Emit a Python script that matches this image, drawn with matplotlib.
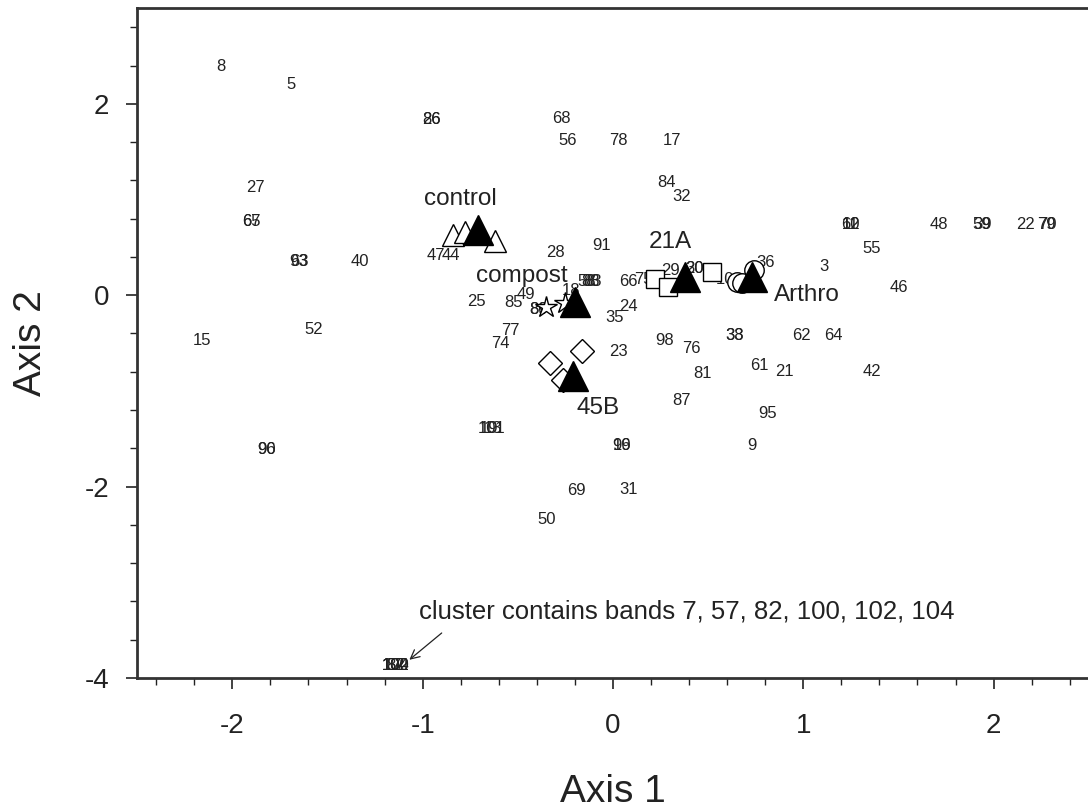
import matplotlib
matplotlib.use('Agg')
import matplotlib.pyplot as plt
from matplotlib.ticker import MultipleLocator

plt.rcParams['font.family'] = ['Liberation Sans', 'DejaVu Sans']
plt.rcParams['axes.unicode_minus'] = False

# ---- band labels (ordination scores) ----
band_names = ['8', '5', '26', '86', '27', '65', '67', '93', '63', '40', '15', '52', '96', '90',
              '68', '56', '78', '17', '84', '32', '47', '44', '28', '91', '25', '85', '49', '89', '80',
              '18', '58', '88', '83', '66', '75', '24', '35', '77', '74', '98', '23', '29', '20', '30',
              '10', '36', '3', '55', '11', '12', '60', '48', '59', '39', '22', '79', '70', '46',
              '76', '33', '38', '62', '64', '61', '21', '81', '42', '87', '95', '9', '19', '101', '13',
              '16', '99', '69', '31', '50', '7', '57', '82', '100', '102', '104']
band_x = [-2.06, -1.69, -0.956, -0.956, -1.88, -1.90, -1.90, -1.65, -1.65, -1.33, -2.16, -1.57, -1.82, -1.82,
          -0.27, -0.24, 0.03, 0.31, 0.28, 0.36, -0.93, -0.85, -0.30, -0.06, -0.72, -0.525, -0.457, -0.39, -0.39,
          -0.22, -0.14, -0.12, -0.11, 0.08, 0.16, 0.08, 0.01, -0.54, -0.59, 0.27, 0.03, 0.30, 0.43, 0.43,
          0.59, 0.80, 1.11, 1.36, 1.25, 1.25, 1.25, 1.71, 1.94, 1.94, 2.165, 2.28, 2.28, 1.50,
          0.41, 0.64, 0.64, 0.99, 1.16, 0.77, 0.90, 0.47, 1.36, 0.36, 0.81, 0.73, -0.65, -0.64, -0.63,
          0.045, 0.045, -0.19, 0.08, -0.35, -1.14, -1.14, -1.14, -1.14, -1.14, -1.14]
band_y = [2.39, 2.20, 1.84, 1.84, 1.13, 0.77, 0.77, 0.35, 0.35, 0.35, -0.47, -0.36, -1.61, -1.61,
          1.85, 1.62, 1.62, 1.62, 1.18, 1.03, 0.41, 0.41, 0.45, 0.52, -0.07, -0.08, 0.01, -0.15, -0.15,
          0.05, 0.14, 0.14, 0.14, 0.14, 0.16, -0.115, -0.23, -0.37, -0.50, -0.47, -0.59, 0.26, 0.28, 0.28,
          0.16, 0.34, 0.30, 0.49, 0.74, 0.74, 0.74, 0.74, 0.74, 0.74, 0.74, 0.74, 0.74, 0.08,
          -0.56, -0.42, -0.42, -0.42, -0.42, -0.73, -0.80, -0.82, -0.80, -1.10, -1.24, -1.57, -1.39, -1.39, -1.39,
          -1.57, -1.57, -2.04, -2.03, -2.34, -3.87, -3.87, -3.87, -3.87, -3.87, -3.87]

# ---- treatment replicates (open symbols) and centroids (filled triangles) ----
control_x = [-0.84, -0.78, -0.62]
control_y = [0.63, 0.66, 0.57]
compost_x = [-0.35, -0.25]
compost_y = [-0.12, -0.08]
a21_x = [0.22, 0.29, 0.52]
a21_y = [0.17, 0.09, 0.24]
arthro_x = [0.65, 0.68, 0.74]
arthro_y = [0.14, 0.125, 0.26]
b45_x = [-0.33, -0.165, -0.26]
b45_y = [-0.71, -0.58, -0.89]

centroid_x = [-0.71, -0.20, 0.38, 0.73, -0.21]
centroid_y = [0.68, -0.07, 0.19, 0.19, -0.84]

group_names = ['control', 'compost', '21A', 'Arthro', '45B']
group_lab_x = [-0.80, -0.48, 0.30, 1.02, -0.08]
group_lab_y = [1.00, 0.20, 0.56, 0.0, -1.18]

# cluster note and its arrow
note_text = 'cluster contains bands 7, 57, 82, 100, 102, 104'
note_x, note_y = -1.02, -3.31
arrow_from = (-0.90, -3.53)
arrow_to = (-1.07, -3.81)

fig = plt.figure(figsize=(10.88, 8.10), dpi=100)
ax = fig.add_axes([0.1261, 0.163, 0.8746, 0.827])

for name, x, y in zip(band_names, band_x, band_y):
    ax.text(x, y, name, fontsize=12, ha='center', va='center', color='#222222', zorder=1)

kw = dict(linestyle='none', markerfacecolor='white', markeredgecolor='black', markeredgewidth=1.0, zorder=3)
ax.plot(control_x, control_y, marker='^', markersize=16, **kw)
ax.plot(compost_x, compost_y, marker='*', markersize=16, **kw)
ax.plot(a21_x, a21_y, marker='s', markersize=13, **kw)
ax.plot(arthro_x, arthro_y, marker='o', markersize=14, **kw)
ax.plot(b45_x, b45_y, marker='D', markersize=12, **kw)
ax.plot(centroid_x, centroid_y, linestyle='none', marker='^', markersize=22, color='black', zorder=4)

for name, x, y in zip(group_names, group_lab_x, group_lab_y):
    ax.text(x, y, name, fontsize=17.5, ha='center', va='center', color='#222222', zorder=5)

ax.text(note_x, note_y, note_text, fontsize=18.5, ha='left', va='center', color='#222222')
ax.annotate('', xy=arrow_to, xytext=arrow_from,
            arrowprops=dict(arrowstyle='->', color='#222222', lw=0.9, shrinkA=0, shrinkB=0,
                            mutation_scale=16))

ax.set_xlim(-2.5, 2.5)
ax.set_ylim(-4, 3)
ax.xaxis.set_major_locator(MultipleLocator(1))
ax.xaxis.set_minor_locator(MultipleLocator(0.2))
ax.yaxis.set_major_locator(MultipleLocator(2))
ax.yaxis.set_minor_locator(MultipleLocator(0.4))
ax.tick_params(which='major', direction='out', length=8, width=1.2, labelsize=20, colors='#222222')
ax.tick_params(which='minor', direction='out', length=5, width=1.0, colors='#222222')
ax.tick_params(axis='x', which='major', pad=17)
ax.tick_params(axis='y', which='major', pad=12)

for side in ['left', 'bottom', 'top']:
    ax.spines[side].set_linewidth(2)
    ax.spines[side].set_color('#333333')
ax.spines['right'].set_visible(False)

ax.set_xlabel('Axis 1', fontsize=28, color='#222222')
ax.set_ylabel('Axis 2', fontsize=28, color='#222222')
ax.xaxis.set_label_coords(0.5, -0.143)
ax.yaxis.set_label_coords(-0.093, 0.5)

fig.savefig('out.png', dpi=100)
